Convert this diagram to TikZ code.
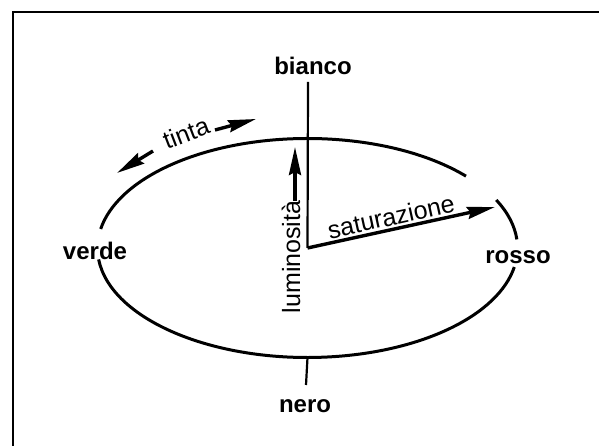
\documentclass[tikz,border=0pt]{standalone}
\usepackage{fontspec}
\setmainfont{Liberation Sans}
\usetikzlibrary{arrows.meta}

\begin{document}
\begin{tikzpicture}[x=1pt,y=1pt,lbl/.style={font=\fontsize{24}{28}\selectfont\bfseries,inner sep=1pt},txt/.style={font=\fontsize{25}{29}\selectfont,inner sep=0pt},ring/.style={line width=3pt},axis/.style={line width=2.2pt},bigarrow/.style={line width=3.4pt,-{Stealth[length=28pt,width=12pt,inset=3pt]}}]
\useasboundingbox (0,0) rectangle (599,446);
\draw[line width=2.6pt] (13,0) -- (13,434) -- (599,434);
% centre and ends of the axis
\coordinate (O) at (307.5,198);
\coordinate (wtop) at (308,364);
\coordinate (nbot) at (306,61);
\path (O) ++(-90:210 and 109.5) coordinate (nlow);
% the hue ring, cut where the labels sit
\draw[ring] (O) ++(41:210 and 109.5) arc[start angle=41,end angle=170,x radius=210,y radius=109.5];
\draw[ring] (O) ++(4.5:210 and 109.5) arc[start angle=4.5,end angle=26,x radius=210,y radius=109.5];
\draw[ring] (O) ++(186:210 and 109.5) arc[start angle=186,end angle=350,x radius=210,y radius=109.5];
\node[lbl] (bianco) at (313,380) {bianco};
\node[lbl] (nero) at (305,40) {nero};
\node[lbl] (verde) at (95,195) {verde};
\node[lbl] (rosso) at (518,189) {rosso};
\draw[axis] (wtop) -- (O);
\draw[axis] (nlow) -- (nbot);
% saturation
\coordinate (sat) at (495,239);
\draw[bigarrow] (O) -- (sat) node[txt,pos=0.46,sloped,above=2pt] {saturazione};
% lightness
\node[txt,rotate=90,anchor=base] (lum) at (300,189) {luminosità};
\coordinate (lumtip) at (295,299);
\draw[bigarrow] (lum.east -| lumtip) -- (lumtip);
% hue
\node[txt,rotate=21] (tinta) at (186,313) {tinta};
\coordinate (tr) at (256,327);
\coordinate (tl) at (117,273);
\draw[bigarrow] (215,316) -- (tr);
\draw[bigarrow] (153,295) -- (tl);
\end{tikzpicture}
\end{document}
